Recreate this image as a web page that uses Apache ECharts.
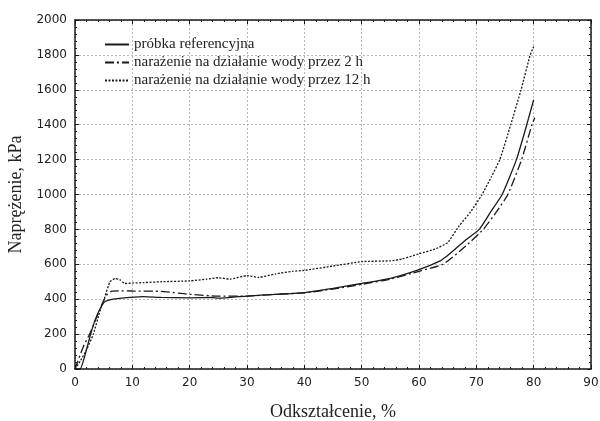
<!DOCTYPE html>
<html>
<head>
<meta charset="utf-8">
<script src="https://cdn.jsdelivr.net/npm/echarts@6/dist/echarts.min.js"></script>
<style>
  html, body { margin: 0; padding: 0; background: #fff; }
  #chart { width: 600px; height: 421px; }
</style>
</head>
<body>
<div id="chart"></div>
<script>
// odkształcenie (%) i naprężenie (kPa)
var seriesNames = ['próbka referencyjna', 'narażenie na działanie wody przez 2 h', 'narażenie na działanie wody przez 12 h'];

var strainRef = [0, 0.9, 2, 2.6, 3.5, 4.4, 5.2, 6.7, 9.6, 12, 15, 20, 24, 25, 30, 35, 40, 45, 50, 55, 60, 63.7, 65, 68, 70.5, 72.5, 74.5, 77, 78.8, 80];
var stressRef = [0, 0, 110, 185, 280, 347, 385, 400, 410, 415, 410, 408, 410, 406, 418, 428, 438, 462, 490, 520, 570, 620, 650, 735, 800, 900, 1000, 1200, 1400, 1543];

var strain2h = [0, 1.45, 2.6, 3.8, 4.65, 5.5, 6.4, 8, 10, 15, 18, 20, 25, 30, 35, 40, 45, 50, 55, 60, 64.2, 68, 71.2, 73.5, 75.5, 77.9, 79.7, 80.2];
var stress2h = [0, 128, 204, 299, 366, 423, 446, 448, 447, 445, 435, 428, 418, 418, 428, 436, 458, 485, 515, 560, 600, 700, 800, 900, 1000, 1200, 1400, 1440];

var strain12h = [0, 1, 2, 3.2, 4.4, 5.2, 6.1, 7, 7.8, 8.7, 10.2, 12, 15, 20, 23, 25, 27, 30, 32, 35, 38, 40, 45, 50, 55, 57, 60, 63, 65, 67, 69, 71, 72.6, 74.1, 76, 77.8, 79.4, 80];
var stress12h = [0, 50, 110, 200, 337, 413, 500, 518, 512, 490, 493, 495, 500, 505, 515, 523, 515, 535, 525, 545, 560, 565, 590, 615, 620, 630, 660, 690, 725, 820, 900, 1000, 1100, 1200, 1400, 1600, 1800, 1848];

function pairs(xs, ys) {
    return xs.map(function (x, i) { return [x, ys[i]]; });
}

var myChart = echarts.init(document.getElementById('chart'));
var ink = '#1a1a1a';
var tickFont = {
    fontFamily: 'DejaVu Sans', fontSize: 12, color: '#222',
    formatter: function (v) { return String(v); }
};
var nameFont = { fontFamily: 'Liberation Serif', fontSize: 18, color: '#222' };

var axisLine = { show: true, onZero: false, lineStyle: { color: ink, width: 1.5 } };
var axisTick = { show: true, inside: true, length: 4, lineStyle: { color: ink } };
var minorTick = { show: true, splitNumber: 5, length: 2, lineStyle: { color: ink } };
var gridLine = { show: true, lineStyle: { color: '#b8b8b8', type: [2, 2], width: 1 } };

function lineSeries(name, data, type) {
    return {
        name: name,
        type: 'line',
        data: data,
        symbol: 'none',
        smooth: 0.15,
        lineStyle: { color: ink, width: 1.3, type: type },
        itemStyle: { color: ink }
    };
}

var option = {
    animation: false,
    backgroundColor: '#fff',
    grid: { left: 75, right: 9, top: 20, bottom: 52, outerBoundsMode: 'none' },
    legend: {
        orient: 'vertical',
        left: 99,
        top: 32,
        itemWidth: 24,
        itemHeight: 14,
        itemGap: 3,
        itemStyle: { opacity: 0 },
        textStyle: { fontFamily: 'Liberation Serif', fontSize: 15, color: '#222' },
        data: seriesNames
    },
    xAxis: [{
        type: 'value', min: 0, max: 90, interval: 10,
        name: 'Odkształcenie, %', nameLocation: 'middle', nameGap: 34,
        nameTextStyle: nameFont,
        axisLabel: tickFont,
        axisLine: axisLine, axisTick: axisTick, minorTick: minorTick,
        splitLine: gridLine
    }, {
        type: 'value', position: 'top', min: 0, max: 90, interval: 10,
        axisLabel: { show: false },
        axisLine: axisLine, axisTick: axisTick, minorTick: minorTick,
        splitLine: { show: false }
    }],
    yAxis: [{
        type: 'value', min: 0, max: 2000, interval: 200,
        name: 'Naprężenie, kPa', nameLocation: 'middle', nameGap: 47,
        nameTextStyle: nameFont,
        axisLabel: tickFont,
        axisLine: axisLine, axisTick: axisTick, minorTick: minorTick,
        splitLine: gridLine
    }, {
        type: 'value', position: 'right', min: 0, max: 2000, interval: 200,
        axisLabel: { show: false },
        axisLine: axisLine, axisTick: axisTick, minorTick: minorTick,
        splitLine: { show: false }
    }],
    series: [
        lineSeries(seriesNames[0], pairs(strainRef, stressRef), 'solid'),
        lineSeries(seriesNames[1], pairs(strain2h, stress2h), [9, 3, 2, 3]),
        lineSeries(seriesNames[2], pairs(strain12h, stress12h), [2, 1.5])
    ]
};
myChart.setOption(option);
</script>
</body>
</html>
